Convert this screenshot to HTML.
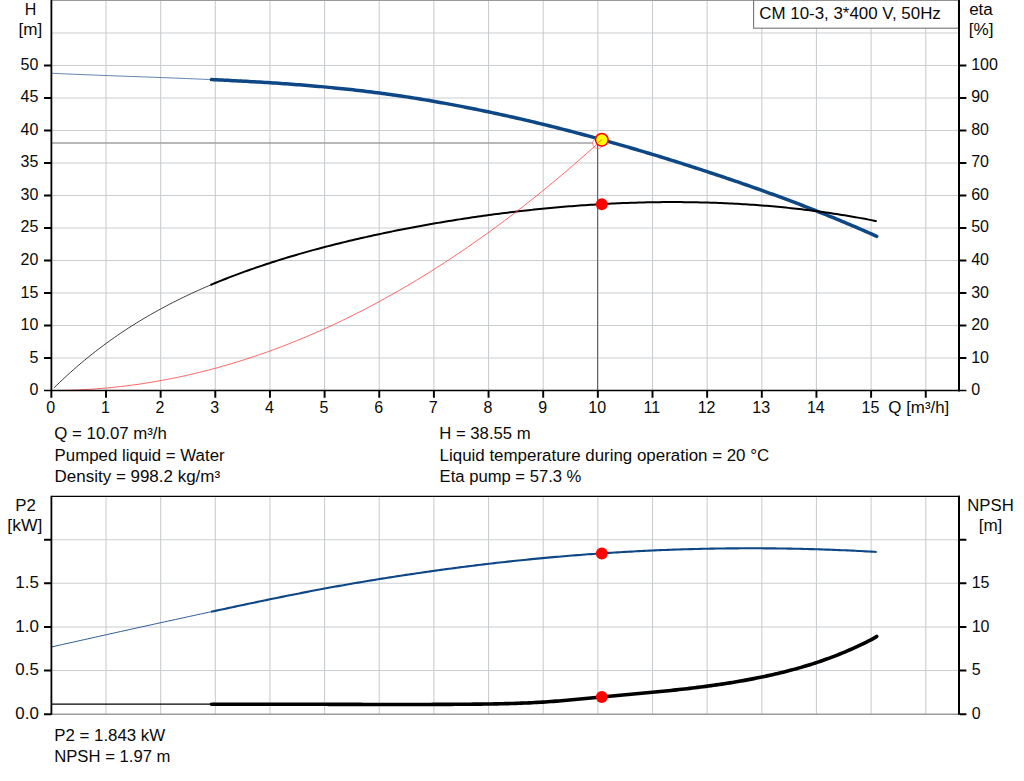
<!DOCTYPE html>
<html><head><meta charset="utf-8"><title>CM 10-3</title>
<style>html,body{margin:0;padding:0;background:#fff}svg{display:block}text{font-family:"Liberation Sans",sans-serif;font-size:16px;fill:#0a0a0a}</style></head>
<body>
<svg width="1024" height="781" viewBox="0 0 1024 781">
<rect width="1024" height="781" fill="#fff"/>
<path d="M106.00,0V390.5 M160.65,0V390.5 M215.30,0V390.5 M269.95,0V390.5 M324.60,0V390.5 M379.25,0V390.5 M433.90,0V390.5 M488.55,0V390.5 M543.20,0V390.5 M597.85,0V390.5 M652.50,0V390.5 M707.15,0V390.5 M761.80,0V390.5 M816.45,0V390.5 M871.10,0V390.5 M925.75,0V390.5 M51.35,358.00H960.0 M51.35,325.50H960.0 M51.35,293.00H960.0 M51.35,260.50H960.0 M51.35,228.00H960.0 M51.35,195.50H960.0 M51.35,163.00H960.0 M51.35,130.50H960.0 M51.35,98.00H960.0 M51.35,65.50H960.0 M51.35,33.00H960.0" stroke="#cbced0" stroke-width="1.1" fill="none"/>
<path d="M51.35,0.3H960.0" stroke="#9a9a9a" stroke-width="1.2" fill="none"/>
<path d="M106.00,496.3V714.2 M160.65,496.3V714.2 M215.30,496.3V714.2 M269.95,496.3V714.2 M324.60,496.3V714.2 M379.25,496.3V714.2 M433.90,496.3V714.2 M488.55,496.3V714.2 M543.20,496.3V714.2 M597.85,496.3V714.2 M652.50,496.3V714.2 M707.15,496.3V714.2 M761.80,496.3V714.2 M816.45,496.3V714.2 M871.10,496.3V714.2 M925.75,496.3V714.2 M51.35,670.57H960.0 M51.35,626.94H960.0 M51.35,583.31H960.0 M51.35,539.68H960.0" stroke="#cbced0" stroke-width="1.1" fill="none"/>
<path d="M51.35,714.2H960.0" stroke="#9c9c9c" stroke-width="1.5" fill="none"/>
<path d="M51.35,143H593" stroke="#a0a0a0" stroke-width="1.6" fill="none"/>
<path d="M597.60,144V390.5" stroke="#5c5f62" stroke-width="1.1" fill="none"/>
<path d="M51.35,73.23 L54.11,73.36 L56.87,73.49 L59.63,73.62 L62.39,73.74 L65.15,73.86 L67.91,73.99 L70.67,74.11 L73.43,74.22 L76.19,74.34 L78.96,74.46 L81.72,74.57 L84.48,74.68 L87.24,74.79 L90.00,74.90 L92.76,75.01 L95.52,75.12 L98.28,75.23 L101.04,75.34 L103.80,75.44 L106.56,75.55 L109.32,75.65 L112.08,75.75 L114.84,75.86 L117.60,75.96 L120.36,76.06 L123.12,76.16 L125.88,76.26 L128.64,76.37 L131.41,76.47 L134.17,76.57 L136.93,76.67 L139.69,76.77 L142.45,76.87 L145.21,76.97 L147.97,77.07 L150.73,77.17 L153.49,77.28 L156.25,77.38 L159.01,77.48 L161.77,77.58 L164.53,77.69 L167.29,77.79 L170.05,77.90 L172.81,78.00 L175.57,78.11 L178.33,78.22 L181.10,78.33 L183.86,78.44 L186.62,78.55 L189.38,78.66 L192.14,78.77 L194.90,78.89 L197.66,79.00 L200.42,79.12 L203.18,79.24 L205.94,79.36 L208.70,79.48 L211.46,79.61" stroke="#2a5a96" stroke-width="0.75" fill="none"/>
<path d="M211.50,79.61 L214.17,79.73 L216.84,79.85 L219.51,79.98 L222.19,80.10 L224.86,80.23 L227.53,80.36 L230.20,80.50 L232.87,80.63 L235.54,80.77 L238.21,80.91 L240.89,81.05 L243.56,81.19 L246.23,81.34 L248.90,81.49 L251.57,81.64 L254.24,81.79 L256.92,81.95 L259.59,82.11 L262.26,82.27 L264.93,82.43 L267.60,82.60 L270.27,82.77 L272.94,82.94 L275.62,83.12 L278.29,83.29 L280.96,83.48 L283.63,83.66 L286.30,83.85 L288.97,84.04 L291.64,84.24 L294.32,84.44 L296.99,84.64 L299.66,84.85 L302.33,85.05 L305.00,85.27 L307.67,85.49 L310.34,85.71 L313.02,85.93 L315.69,86.16 L318.36,86.40 L321.03,86.63 L323.70,86.88 L326.37,87.12 L329.05,87.37 L331.72,87.63 L334.39,87.89 L337.06,88.15 L339.73,88.42 L342.40,88.70 L345.07,88.98 L347.75,89.26 L350.42,89.55 L353.09,89.84 L355.76,90.14 L358.43,90.45 L361.10,90.76 L363.77,91.07 L366.45,91.39 L369.12,91.72 L371.79,92.05 L374.46,92.39 L377.13,92.73 L379.80,93.08 L382.48,93.44 L385.15,93.80 L387.82,94.16 L390.49,94.54 L393.16,94.91 L395.83,95.30 L398.50,95.69 L401.18,96.08 L403.85,96.48 L406.52,96.89 L409.19,97.30 L411.86,97.72 L414.53,98.14 L417.20,98.57 L419.88,99.00 L422.55,99.44 L425.22,99.88 L427.89,100.33 L430.56,100.79 L433.23,101.25 L435.90,101.71 L438.58,102.18 L441.25,102.66 L443.92,103.14 L446.59,103.62 L449.26,104.11 L451.93,104.61 L454.61,105.11 L457.28,105.62 L459.95,106.13 L462.62,106.64 L465.29,107.16 L467.96,107.69 L470.63,108.22 L473.31,108.75 L475.98,109.29 L478.65,109.84 L481.32,110.39 L483.99,110.94 L486.66,111.50 L489.33,112.06 L492.01,112.63 L494.68,113.20 L497.35,113.77 L500.02,114.36 L502.69,114.94 L505.36,115.53 L508.03,116.12 L510.71,116.72 L513.38,117.33 L516.05,117.93 L518.72,118.55 L521.39,119.16 L524.06,119.78 L526.74,120.41 L529.41,121.04 L532.08,121.67 L534.75,122.31 L537.42,122.95 L540.09,123.59 L542.76,124.24 L545.44,124.90 L548.11,125.56 L550.78,126.22 L553.45,126.89 L556.12,127.56 L558.79,128.23 L561.46,128.91 L564.14,129.60 L566.81,130.28 L569.48,130.98 L572.15,131.67 L574.82,132.37 L577.49,133.07 L580.17,133.78 L582.84,134.49 L585.51,135.21 L588.18,135.93 L590.85,136.65 L593.52,137.38 L596.19,138.11 L598.87,138.84 L601.54,139.58 L604.21,140.33 L606.88,141.07 L609.55,141.82 L612.22,142.58 L614.89,143.33 L617.57,144.10 L620.24,144.86 L622.91,145.63 L625.58,146.40 L628.25,147.18 L630.92,147.96 L633.59,148.74 L636.27,149.53 L638.94,150.32 L641.61,151.11 L644.28,151.91 L646.95,152.71 L649.62,153.52 L652.30,154.33 L654.97,155.14 L657.64,155.95 L660.31,156.77 L662.98,157.60 L665.65,158.42 L668.32,159.25 L671.00,160.08 L673.67,160.92 L676.34,161.76 L679.01,162.60 L681.68,163.45 L684.35,164.30 L687.02,165.15 L689.70,166.00 L692.37,166.86 L695.04,167.73 L697.71,168.59 L700.38,169.46 L703.05,170.33 L705.72,171.21 L708.40,172.08 L711.07,172.97 L713.74,173.85 L716.41,174.74 L719.08,175.63 L721.75,176.52 L724.43,177.42 L727.10,178.32 L729.77,179.23 L732.44,180.14 L735.11,181.05 L737.78,181.97 L740.45,182.89 L743.13,183.81 L745.80,184.74 L748.47,185.67 L751.14,186.61 L753.81,187.55 L756.48,188.49 L759.15,189.44 L761.83,190.40 L764.50,191.35 L767.17,192.32 L769.84,193.28 L772.51,194.25 L775.18,195.23 L777.86,196.21 L780.53,197.19 L783.20,198.18 L785.87,199.18 L788.54,200.18 L791.21,201.18 L793.88,202.19 L796.56,203.21 L799.23,204.23 L801.90,205.25 L804.57,206.28 L807.24,207.32 L809.91,208.36 L812.58,209.40 L815.26,210.46 L817.93,211.51 L820.60,212.58 L823.27,213.65 L825.94,214.72 L828.61,215.80 L831.28,216.89 L833.96,217.98 L836.63,219.08 L839.30,220.18 L841.97,221.29 L844.64,222.41 L847.31,223.53 L849.99,224.66 L852.66,225.80 L855.33,226.94 L858.00,228.09 L860.67,229.24 L863.34,230.40 L866.01,231.57 L868.69,232.75 L871.36,233.93 L874.03,235.12 L876.70,236.31" stroke="#0d4785" stroke-width="3.5" fill="none" stroke-linecap="round" stroke-linejoin="round"/>
<path d="M54.10,387.79 L56.85,385.10 L59.60,382.44 L62.35,379.83 L65.10,377.26 L67.86,374.73 L70.61,372.25 L73.36,369.80 L76.11,367.39 L78.86,365.01 L81.61,362.68 L84.36,360.38 L87.11,358.12 L89.87,355.89 L92.62,353.70 L95.37,351.54 L98.12,349.42 L100.87,347.33 L103.62,345.27 L106.37,343.24 L109.12,341.25 L111.87,339.28 L114.63,337.35 L117.38,335.44 L120.13,333.56 L122.88,331.72 L125.63,329.90 L128.38,328.10 L131.13,326.34 L133.88,324.60 L136.64,322.88 L139.39,321.20 L142.14,319.53 L144.89,317.89 L147.64,316.28 L150.39,314.69 L153.14,313.12 L155.89,311.58 L158.64,310.05 L161.40,308.55 L164.15,307.07 L166.90,305.62 L169.65,304.18 L172.40,302.76 L175.15,301.36 L177.90,299.99 L180.65,298.63 L183.41,297.29 L186.16,295.97 L188.91,294.66 L191.66,293.38 L194.41,292.11 L197.16,290.86 L199.91,289.62 L202.66,288.41 L205.41,287.20 L208.17,286.02 L210.92,284.85" stroke="#1a1a1a" stroke-width="0.85" fill="none"/>
<path d="M210.50,285.02 L213.18,283.90 L215.85,282.79 L218.53,281.69 L221.20,280.61 L223.88,279.54 L226.55,278.48 L229.23,277.43 L231.90,276.40 L234.58,275.38 L237.26,274.38 L239.93,273.38 L242.61,272.40 L245.28,271.43 L247.96,270.47 L250.63,269.52 L253.31,268.58 L255.98,267.65 L258.66,266.74 L261.33,265.83 L264.01,264.94 L266.69,264.05 L269.36,263.18 L272.04,262.31 L274.71,261.46 L277.39,260.61 L280.06,259.77 L282.74,258.94 L285.41,258.12 L288.09,257.31 L290.77,256.51 L293.44,255.72 L296.12,254.93 L298.79,254.16 L301.47,253.39 L304.14,252.63 L306.82,251.88 L309.49,251.13 L312.17,250.39 L314.84,249.66 L317.52,248.94 L320.20,248.23 L322.87,247.52 L325.55,246.82 L328.22,246.13 L330.90,245.44 L333.57,244.76 L336.25,244.09 L338.92,243.42 L341.60,242.76 L344.28,242.11 L346.95,241.46 L349.63,240.82 L352.30,240.19 L354.98,239.56 L357.65,238.94 L360.33,238.32 L363.00,237.71 L365.68,237.11 L368.35,236.51 L371.03,235.92 L373.71,235.33 L376.38,234.75 L379.06,234.18 L381.73,233.61 L384.41,233.05 L387.08,232.49 L389.76,231.94 L392.43,231.39 L395.11,230.85 L397.79,230.31 L400.46,229.78 L403.14,229.25 L405.81,228.73 L408.49,228.22 L411.16,227.71 L413.84,227.20 L416.51,226.70 L419.19,226.21 L421.86,225.72 L424.54,225.23 L427.22,224.75 L429.89,224.28 L432.57,223.81 L435.24,223.34 L437.92,222.88 L440.59,222.43 L443.27,221.98 L445.94,221.54 L448.62,221.10 L451.30,220.66 L453.97,220.23 L456.65,219.80 L459.32,219.38 L462.00,218.97 L464.67,218.56 L467.35,218.15 L470.02,217.75 L472.70,217.36 L475.37,216.96 L478.05,216.58 L480.73,216.20 L483.40,215.82 L486.08,215.45 L488.75,215.08 L491.43,214.72 L494.10,214.36 L496.78,214.01 L499.45,213.66 L502.13,213.32 L504.81,212.98 L507.48,212.65 L510.16,212.32 L512.83,212.00 L515.51,211.68 L518.18,211.36 L520.86,211.06 L523.53,210.75 L526.21,210.45 L528.88,210.16 L531.56,209.87 L534.24,209.59 L536.91,209.31 L539.59,209.04 L542.26,208.77 L544.94,208.50 L547.61,208.24 L550.29,207.99 L552.96,207.74 L555.64,207.50 L558.32,207.26 L560.99,207.03 L563.67,206.80 L566.34,206.58 L569.02,206.36 L571.69,206.15 L574.37,205.94 L577.04,205.74 L579.72,205.54 L582.39,205.35 L585.07,205.16 L587.75,204.98 L590.42,204.81 L593.10,204.63 L595.77,204.47 L598.45,204.31 L601.12,204.16 L603.80,204.01 L606.47,203.86 L609.15,203.72 L611.83,203.59 L614.50,203.46 L617.18,203.34 L619.85,203.23 L622.53,203.11 L625.20,203.01 L627.88,202.91 L630.55,202.81 L633.23,202.73 L635.90,202.64 L638.58,202.56 L641.26,202.49 L643.93,202.43 L646.61,202.37 L649.28,202.31 L651.96,202.26 L654.63,202.22 L657.31,202.18 L659.98,202.15 L662.66,202.12 L665.34,202.10 L668.01,202.09 L670.69,202.08 L673.36,202.08 L676.04,202.08 L678.71,202.09 L681.39,202.11 L684.06,202.13 L686.74,202.15 L689.41,202.19 L692.09,202.23 L694.77,202.27 L697.44,202.32 L700.12,202.38 L702.79,202.44 L705.47,202.51 L708.14,202.59 L710.82,202.67 L713.49,202.76 L716.17,202.85 L718.85,202.95 L721.52,203.06 L724.20,203.18 L726.87,203.29 L729.55,203.42 L732.22,203.55 L734.90,203.69 L737.57,203.84 L740.25,203.99 L742.92,204.15 L745.60,204.31 L748.28,204.49 L750.95,204.66 L753.63,204.85 L756.30,205.04 L758.98,205.24 L761.65,205.44 L764.33,205.65 L767.00,205.87 L769.68,206.10 L772.36,206.33 L775.03,206.57 L777.71,206.81 L780.38,207.07 L783.06,207.33 L785.73,207.59 L788.41,207.87 L791.08,208.15 L793.76,208.44 L796.43,208.73 L799.11,209.04 L801.79,209.35 L804.46,209.66 L807.14,209.99 L809.81,210.32 L812.49,210.66 L815.16,211.01 L817.84,211.36 L820.51,211.72 L823.19,212.09 L825.87,212.47 L828.54,212.86 L831.22,213.25 L833.89,213.65 L836.57,214.06 L839.24,214.48 L841.92,214.90 L844.59,215.33 L847.27,215.78 L849.94,216.23 L852.62,216.68 L855.30,217.15 L857.97,217.62 L860.65,218.11 L863.32,218.60 L866.00,219.10 L868.67,219.61 L871.35,220.13 L874.02,220.65 L876.70,221.19" stroke="#000" stroke-width="2.0" fill="none" stroke-linejoin="round"/>
<path d="M51.35,390.50 L55.97,390.48 L60.60,390.43 L65.22,390.34 L69.85,390.22 L74.47,390.06 L79.10,389.86 L83.72,389.63 L88.35,389.37 L92.97,389.07 L97.60,388.73 L102.22,388.36 L106.85,387.95 L111.47,387.51 L116.09,387.03 L120.72,386.52 L125.34,385.97 L129.97,385.39 L134.59,384.77 L139.22,384.11 L143.84,383.43 L148.47,382.70 L153.09,381.94 L157.72,381.14 L162.34,380.31 L166.96,379.45 L171.59,378.54 L176.21,377.61 L180.84,376.63 L185.46,375.62 L190.09,374.58 L194.71,373.50 L199.34,372.39 L203.96,371.24 L208.59,370.05 L213.21,368.83 L217.84,367.58 L222.46,366.29 L227.08,364.96 L231.71,363.60 L236.33,362.20 L240.96,360.77 L245.58,359.30 L250.21,357.80 L254.83,356.26 L259.46,354.68 L264.08,353.07 L268.71,351.43 L273.33,349.75 L277.95,348.03 L282.58,346.28 L287.20,344.50 L291.83,342.67 L296.45,340.82 L301.08,338.92 L305.70,337.00 L310.33,335.03 L314.95,333.03 L319.58,331.00 L324.20,328.93 L328.83,326.83 L333.45,324.69 L338.07,322.51 L342.70,320.30 L347.32,318.05 L351.95,315.77 L356.57,313.45 L361.20,311.10 L365.82,308.71 L370.45,306.29 L375.07,303.83 L379.70,301.34 L384.32,298.81 L388.94,296.24 L393.57,293.64 L398.19,291.01 L402.82,288.34 L407.44,285.63 L412.07,282.89 L416.69,280.11 L421.32,277.30 L425.94,274.45 L430.57,271.57 L435.19,268.65 L439.82,265.70 L444.44,262.71 L449.06,259.68 L453.69,256.62 L458.31,253.53 L462.94,250.40 L467.56,247.23 L472.19,244.03 L476.81,240.79 L481.44,237.52 L486.06,234.21 L490.69,230.87 L495.31,227.49 L499.93,224.08 L504.56,220.63 L509.18,217.15 L513.81,213.63 L518.43,210.07 L523.06,206.48 L527.68,202.86 L532.31,199.19 L536.93,195.50 L541.56,191.77 L546.18,188.00 L550.81,184.20 L555.43,180.36 L560.05,176.48 L564.68,172.57 L569.30,168.63 L573.93,164.65 L578.55,160.64 L583.18,156.59 L587.80,152.50 L592.43,148.38 L597.05,144.22 L601.68,140.03" stroke="#ff4040" stroke-width="0.8" fill="none"/>
<circle cx="597.85" cy="143.3" r="5.2" fill="none" stroke="#ff6060" stroke-width="0.7"/>
<circle cx="601.8" cy="139.8" r="6.3" fill="#ffff00" stroke="#ff0000" stroke-width="1.5"/>
<path d="M598.5,142.3L601.8,139.8" stroke="#ff4040" stroke-width="0.8" fill="none"/>
<circle cx="601.8" cy="204.2" r="5.95" fill="#ff0000"/>
<path d="M51.35,647.00 L54.11,646.38 L56.87,645.76 L59.63,645.14 L62.39,644.52 L65.15,643.90 L67.91,643.28 L70.67,642.66 L73.43,642.05 L76.19,641.43 L78.95,640.81 L81.71,640.20 L84.47,639.58 L87.23,638.96 L89.99,638.35 L92.75,637.73 L95.51,637.12 L98.27,636.50 L101.03,635.89 L103.79,635.28 L106.55,634.66 L109.31,634.05 L112.07,633.44 L114.83,632.83 L117.59,632.21 L120.35,631.60 L123.11,630.99 L125.87,630.38 L128.63,629.77 L131.39,629.16 L134.15,628.55 L136.91,627.95 L139.67,627.34 L142.43,626.73 L145.19,626.12 L147.95,625.52 L150.71,624.91 L153.47,624.30 L156.23,623.70 L158.99,623.09 L161.75,622.49 L164.51,621.89 L167.27,621.28 L170.03,620.68 L172.79,620.08 L175.55,619.48 L178.31,618.87 L181.07,618.27 L183.83,617.67 L186.59,617.07 L189.35,616.47 L192.11,615.88 L194.87,615.28 L197.63,614.68 L200.39,614.08 L203.15,613.49 L205.91,612.89 L208.67,612.30 L211.43,611.70" stroke="#1f528e" stroke-width="0.95" fill="none"/>
<path d="M211.00,611.79 L213.67,611.22 L216.35,610.64 L219.02,610.07 L221.69,609.49 L224.37,608.92 L227.04,608.35 L229.71,607.78 L232.39,607.21 L235.06,606.64 L237.73,606.07 L240.41,605.50 L243.08,604.93 L245.76,604.37 L248.43,603.80 L251.10,603.24 L253.78,602.68 L256.45,602.12 L259.12,601.56 L261.80,601.00 L264.47,600.45 L267.14,599.89 L269.82,599.34 L272.49,598.79 L275.16,598.24 L277.84,597.70 L280.51,597.15 L283.18,596.61 L285.86,596.07 L288.53,595.54 L291.20,595.00 L293.88,594.47 L296.55,593.94 L299.23,593.41 L301.90,592.89 L304.57,592.37 L307.25,591.85 L309.92,591.33 L312.59,590.82 L315.27,590.31 L317.94,589.81 L320.61,589.30 L323.29,588.80 L325.96,588.31 L328.63,587.82 L331.31,587.33 L333.98,586.84 L336.65,586.36 L339.33,585.88 L342.00,585.41 L344.67,584.94 L347.35,584.47 L350.02,584.00 L352.70,583.54 L355.37,583.08 L358.04,582.63 L360.72,582.17 L363.39,581.72 L366.06,581.28 L368.74,580.83 L371.41,580.39 L374.08,579.95 L376.76,579.52 L379.43,579.08 L382.10,578.65 L384.78,578.23 L387.45,577.80 L390.12,577.38 L392.80,576.96 L395.47,576.54 L398.14,576.13 L400.82,575.72 L403.49,575.31 L406.17,574.90 L408.84,574.50 L411.51,574.10 L414.19,573.70 L416.86,573.31 L419.53,572.92 L422.21,572.53 L424.88,572.14 L427.55,571.76 L430.23,571.38 L432.90,571.00 L435.57,570.63 L438.25,570.25 L440.92,569.89 L443.59,569.52 L446.27,569.16 L448.94,568.80 L451.61,568.44 L454.29,568.09 L456.96,567.74 L459.63,567.39 L462.31,567.04 L464.98,566.70 L467.66,566.36 L470.33,566.03 L473.00,565.69 L475.68,565.36 L478.35,565.04 L481.02,564.71 L483.70,564.39 L486.37,564.07 L489.04,563.76 L491.72,563.45 L494.39,563.14 L497.06,562.83 L499.74,562.53 L502.41,562.23 L505.08,561.94 L507.76,561.64 L510.43,561.35 L513.10,561.07 L515.78,560.79 L518.45,560.50 L521.13,560.23 L523.80,559.95 L526.47,559.68 L529.15,559.42 L531.82,559.15 L534.49,558.89 L537.17,558.63 L539.84,558.38 L542.51,558.12 L545.19,557.88 L547.86,557.63 L550.53,557.39 L553.21,557.15 L555.88,556.91 L558.55,556.68 L561.23,556.45 L563.90,556.22 L566.57,556.00 L569.25,555.78 L571.92,555.56 L574.60,555.35 L577.27,555.13 L579.94,554.93 L582.62,554.72 L585.29,554.52 L587.96,554.32 L590.64,554.13 L593.31,553.94 L595.98,553.75 L598.66,553.56 L601.33,553.38 L604.00,553.20 L606.68,553.02 L609.35,552.85 L612.02,552.68 L614.70,552.51 L617.37,552.35 L620.04,552.19 L622.72,552.03 L625.39,551.88 L628.07,551.73 L630.74,551.58 L633.41,551.44 L636.09,551.30 L638.76,551.16 L641.43,551.03 L644.11,550.89 L646.78,550.77 L649.45,550.64 L652.13,550.52 L654.80,550.40 L657.47,550.29 L660.15,550.17 L662.82,550.06 L665.49,549.96 L668.17,549.86 L670.84,549.76 L673.51,549.66 L676.19,549.57 L678.86,549.48 L681.53,549.39 L684.21,549.31 L686.88,549.23 L689.56,549.15 L692.23,549.08 L694.90,549.01 L697.58,548.94 L700.25,548.88 L702.92,548.82 L705.60,548.76 L708.27,548.71 L710.94,548.66 L713.62,548.61 L716.29,548.57 L718.96,548.53 L721.64,548.49 L724.31,548.45 L726.98,548.42 L729.66,548.39 L732.33,548.37 L735.00,548.35 L737.68,548.33 L740.35,548.32 L743.03,548.30 L745.70,548.30 L748.37,548.29 L751.05,548.29 L753.72,548.29 L756.39,548.30 L759.07,548.30 L761.74,548.32 L764.41,548.33 L767.09,548.35 L769.76,548.37 L772.43,548.39 L775.11,548.42 L777.78,548.45 L780.45,548.49 L783.13,548.53 L785.80,548.57 L788.47,548.61 L791.15,548.66 L793.82,548.71 L796.50,548.76 L799.17,548.82 L801.84,548.88 L804.52,548.95 L807.19,549.01 L809.86,549.09 L812.54,549.16 L815.21,549.24 L817.88,549.32 L820.56,549.40 L823.23,549.49 L825.90,549.58 L828.58,549.67 L831.25,549.77 L833.92,549.87 L836.60,549.98 L839.27,550.08 L841.94,550.19 L844.62,550.31 L847.29,550.42 L849.97,550.55 L852.64,550.67 L855.31,550.80 L857.99,550.93 L860.66,551.06 L863.33,551.20 L866.01,551.34 L868.68,551.48 L871.35,551.63 L874.03,551.78 L876.70,551.94" stroke="#0d4785" stroke-width="2.1" fill="none" stroke-linecap="butt"/>
<path d="M51.35,704.2H211.5" stroke="#000" stroke-width="1.3" fill="none"/>
<path d="M211.50,704.31 L214.17,704.30 L216.84,704.28 L219.51,704.27 L222.19,704.26 L224.86,704.25 L227.53,704.24 L230.20,704.23 L232.87,704.23 L235.54,704.22 L238.21,704.21 L240.89,704.21 L243.56,704.20 L246.23,704.20 L248.90,704.20 L251.57,704.20 L254.24,704.19 L256.92,704.19 L259.59,704.19 L262.26,704.19 L264.93,704.20 L267.60,704.20 L270.27,704.20 L272.94,704.20 L275.62,704.20 L278.29,704.21 L280.96,704.21 L283.63,704.22 L286.30,704.22 L288.97,704.23 L291.64,704.23 L294.32,704.24 L296.99,704.24 L299.66,704.25 L302.33,704.26 L305.00,704.26 L307.67,704.27 L310.34,704.28 L313.02,704.29 L315.69,704.29 L318.36,704.30 L321.03,704.31 L323.70,704.32 L326.37,704.32 L329.05,704.33 L331.72,704.34 L334.39,704.35 L337.06,704.36 L339.73,704.36 L342.40,704.37 L345.07,704.38 L347.75,704.39 L350.42,704.39 L353.09,704.40 L355.76,704.41 L358.43,704.42 L361.10,704.42 L363.77,704.43 L366.45,704.43 L369.12,704.44 L371.79,704.45 L374.46,704.45 L377.13,704.45 L379.80,704.46 L382.48,704.46 L385.15,704.47 L387.82,704.47 L390.49,704.47 L393.16,704.47 L395.83,704.47 L398.50,704.48 L401.18,704.48 L403.85,704.47 L406.52,704.47 L409.19,704.47 L411.86,704.47 L414.53,704.47 L417.20,704.46 L419.88,704.46 L422.55,704.45 L425.22,704.45 L427.89,704.44 L430.56,704.43 L433.23,704.42 L435.90,704.41 L438.58,704.40 L441.25,704.39 L443.92,704.38 L446.59,704.37 L449.26,704.35 L451.93,704.34 L454.61,704.32 L457.28,704.30 L459.95,704.28 L462.62,704.26 L465.29,704.24 L467.96,704.22 L470.63,704.20 L473.31,704.17 L475.98,704.15 L478.65,704.12 L481.32,704.09 L483.99,704.06 L486.66,704.02 L489.33,703.98 L492.01,703.94 L494.68,703.90 L497.35,703.85 L500.02,703.79 L502.69,703.73 L505.36,703.67 L508.03,703.60 L510.71,703.53 L513.38,703.45 L516.05,703.36 L518.72,703.27 L521.39,703.17 L524.06,703.07 L526.74,702.95 L529.41,702.83 L532.08,702.70 L534.75,702.57 L537.42,702.42 L540.09,702.27 L542.76,702.10 L545.44,701.93 L548.11,701.75 L550.78,701.56 L553.45,701.36 L556.12,701.16 L558.79,700.94 L561.46,700.72 L564.14,700.50 L566.81,700.27 L569.48,700.04 L572.15,699.80 L574.82,699.55 L577.49,699.31 L580.17,699.06 L582.84,698.81 L585.51,698.55 L588.18,698.30 L590.85,698.04 L593.52,697.79 L596.19,697.53 L598.87,697.28 L601.54,697.03 L604.21,696.78 L606.88,696.53 L609.55,696.28 L612.22,696.03 L614.89,695.79 L617.57,695.54 L620.24,695.30 L622.91,695.05 L625.58,694.81 L628.25,694.57 L630.92,694.32 L633.59,694.08 L636.27,693.83 L638.94,693.58 L641.61,693.33 L644.28,693.08 L646.95,692.83 L649.62,692.58 L652.30,692.32 L654.97,692.06 L657.64,691.80 L660.31,691.54 L662.98,691.27 L665.65,691.00 L668.32,690.72 L671.00,690.44 L673.67,690.16 L676.34,689.87 L679.01,689.58 L681.68,689.28 L684.35,688.98 L687.02,688.68 L689.70,688.36 L692.37,688.05 L695.04,687.72 L697.71,687.39 L700.38,687.05 L703.05,686.71 L705.72,686.36 L708.40,686.00 L711.07,685.64 L713.74,685.27 L716.41,684.89 L719.08,684.50 L721.75,684.10 L724.43,683.70 L727.10,683.28 L729.77,682.86 L732.44,682.43 L735.11,681.99 L737.78,681.54 L740.45,681.08 L743.13,680.61 L745.80,680.12 L748.47,679.63 L751.14,679.13 L753.81,678.62 L756.48,678.09 L759.15,677.55 L761.83,677.00 L764.50,676.44 L767.17,675.87 L769.84,675.29 L772.51,674.69 L775.18,674.07 L777.86,673.45 L780.53,672.81 L783.20,672.15 L785.87,671.48 L788.54,670.80 L791.21,670.09 L793.88,669.37 L796.56,668.64 L799.23,667.89 L801.90,667.11 L804.57,666.33 L807.24,665.52 L809.91,664.69 L812.58,663.85 L815.26,662.98 L817.93,662.10 L820.60,661.19 L823.27,660.27 L825.94,659.32 L828.61,658.35 L831.28,657.36 L833.96,656.35 L836.63,655.31 L839.30,654.25 L841.97,653.17 L844.64,652.06 L847.31,650.93 L849.99,649.77 L852.66,648.59 L855.33,647.38 L858.00,646.15 L860.67,644.89 L863.34,643.60 L866.01,642.29 L868.69,640.94 L871.36,639.57 L874.03,638.14 L876.70,636.44" stroke="#000" stroke-width="3.6" fill="none" stroke-linecap="round" stroke-linejoin="round"/>
<circle cx="601.8" cy="553.5" r="5.95" fill="#ff0000"/>
<circle cx="601.8" cy="697" r="5.95" fill="#ff0000"/>
<rect x="753.6" y="0.2" width="204.89999999999998" height="28" fill="#fff" stroke="#757575" stroke-width="1.1"/>
<text x="759.3" y="19" textLength="181.5" lengthAdjust="spacingAndGlyphs">CM 10-3, 3*400 V, 50Hz</text>
<path d="M51.4,0V391.1" stroke="#000" stroke-width="1.8" fill="none"/>
<path d="M959,0V391.4" stroke="#000" stroke-width="2" fill="none"/>
<path d="M44.050000000000004,390.5H966.4" stroke="#000" stroke-width="1.6" fill="none"/>
<path d="M44.050000000000004,358.00H51.35 M960.0,358.00H966.4 M44.050000000000004,325.50H51.35 M960.0,325.50H966.4 M44.050000000000004,293.00H51.35 M960.0,293.00H966.4 M44.050000000000004,260.50H51.35 M960.0,260.50H966.4 M44.050000000000004,228.00H51.35 M960.0,228.00H966.4 M44.050000000000004,195.50H51.35 M960.0,195.50H966.4 M44.050000000000004,163.00H51.35 M960.0,163.00H966.4 M44.050000000000004,130.50H51.35 M960.0,130.50H966.4 M44.050000000000004,98.00H51.35 M960.0,98.00H966.4 M44.050000000000004,65.50H51.35 M960.0,65.50H966.4" stroke="#000" stroke-width="1.95" fill="none"/>
<path d="M51.35,390.5V397.8 M106.00,390.5V397.8 M160.65,390.5V397.8 M215.30,390.5V397.8 M269.95,390.5V397.8 M324.60,390.5V397.8 M379.25,390.5V397.8 M433.90,390.5V397.8 M488.55,390.5V397.8 M543.20,390.5V397.8 M597.85,390.5V397.8 M652.50,390.5V397.8 M707.15,390.5V397.8 M761.80,390.5V397.8 M816.45,390.5V397.8 M871.10,390.5V397.8 M925.75,390.5V397.8" stroke="#000" stroke-width="1.95" fill="none"/>
<path d="M51.4,495.8V714.8000000000001" stroke="#000" stroke-width="1.8" fill="none"/>
<path d="M959,495.8V714.8000000000001" stroke="#000" stroke-width="2" fill="none"/>
<path d="M51.35,496.3H960.0" stroke="#000" stroke-width="1.3" fill="none"/>
<path d="M44.050000000000004,714.20H51.35 M960.0,714.20H966.4 M44.050000000000004,670.57H51.35 M960.0,670.57H966.4 M44.050000000000004,626.94H51.35 M960.0,626.94H966.4 M44.050000000000004,583.31H51.35 M960.0,583.31H966.4 M44.050000000000004,539.68H51.35 M960.0,539.68H966.4" stroke="#000" stroke-width="1.95" fill="none"/>
<text x="38.3" y="395.00" text-anchor="end">0</text>
<text x="971.2" y="395.00">0</text>
<text x="38.3" y="363.10" text-anchor="end">5</text>
<text x="971.2" y="363.10">10</text>
<text x="38.3" y="330.00" text-anchor="end">10</text>
<text x="971.2" y="330.00">20</text>
<text x="38.3" y="297.50" text-anchor="end">15</text>
<text x="971.2" y="297.50">30</text>
<text x="38.3" y="265.00" text-anchor="end">20</text>
<text x="971.2" y="265.00">40</text>
<text x="38.3" y="232.00" text-anchor="end">25</text>
<text x="971.2" y="232.00">50</text>
<text x="38.3" y="200.00" text-anchor="end">30</text>
<text x="971.2" y="200.00">60</text>
<text x="38.3" y="167.00" text-anchor="end">35</text>
<text x="971.2" y="167.00">70</text>
<text x="38.3" y="135.00" text-anchor="end">40</text>
<text x="971.2" y="135.00">80</text>
<text x="38.3" y="102.00" text-anchor="end">45</text>
<text x="971.2" y="102.00">90</text>
<text x="38.3" y="70.00" text-anchor="end">50</text>
<text x="971.2" y="70.00">100</text>
<text x="50.75" y="412.8" text-anchor="middle">0</text>
<text x="105.40" y="412.8" text-anchor="middle">1</text>
<text x="160.05" y="412.8" text-anchor="middle">2</text>
<text x="214.70" y="412.8" text-anchor="middle">3</text>
<text x="269.35" y="412.8" text-anchor="middle">4</text>
<text x="324.00" y="412.8" text-anchor="middle">5</text>
<text x="378.65" y="412.8" text-anchor="middle">6</text>
<text x="433.30" y="412.8" text-anchor="middle">7</text>
<text x="487.95" y="412.8" text-anchor="middle">8</text>
<text x="542.60" y="412.8" text-anchor="middle">9</text>
<text x="597.25" y="412.8" text-anchor="middle">10</text>
<text x="651.90" y="412.8" text-anchor="middle">11</text>
<text x="706.55" y="412.8" text-anchor="middle">12</text>
<text x="761.20" y="412.8" text-anchor="middle">13</text>
<text x="815.85" y="412.8" text-anchor="middle">14</text>
<text x="870.50" y="412.8" text-anchor="middle">15</text>
<text x="888.3" y="412.8" textLength="61" lengthAdjust="spacingAndGlyphs">Q [m³/h]</text>
<text x="30.6" y="14.5" text-anchor="middle">H</text>
<text x="30.4" y="34.6" text-anchor="middle" textLength="23.7" lengthAdjust="spacingAndGlyphs">[m]</text>
<text x="981" y="14.5" text-anchor="middle" textLength="23.7" lengthAdjust="spacingAndGlyphs">eta</text>
<text x="981.2" y="34.6" text-anchor="middle" textLength="24.7" lengthAdjust="spacingAndGlyphs">[%]</text>
<text x="38.8" y="719.00" text-anchor="end" textLength="23.5" lengthAdjust="spacingAndGlyphs">0.0</text>
<text x="38.8" y="675.37" text-anchor="end" textLength="23.5" lengthAdjust="spacingAndGlyphs">0.5</text>
<text x="38.8" y="631.74" text-anchor="end" textLength="23.5" lengthAdjust="spacingAndGlyphs">1.0</text>
<text x="38.8" y="588.11" text-anchor="end" textLength="23.5" lengthAdjust="spacingAndGlyphs">1.5</text>
<text x="971.7" y="719.00">0</text>
<text x="971.7" y="675.37">5</text>
<text x="971.7" y="631.74">10</text>
<text x="971.7" y="588.11">15</text>
<text x="25.5" y="510.8" text-anchor="middle" textLength="20.6" lengthAdjust="spacingAndGlyphs">P2</text>
<text x="24.8" y="531.3" text-anchor="middle" textLength="35" lengthAdjust="spacingAndGlyphs">[kW]</text>
<text x="990.5" y="510.8" text-anchor="middle" textLength="46.5" lengthAdjust="spacingAndGlyphs">NPSH</text>
<text x="990.5" y="531.3" text-anchor="middle" textLength="23.7" lengthAdjust="spacingAndGlyphs">[m]</text>
<text x="54.3" y="438.8" textLength="112.6" lengthAdjust="spacingAndGlyphs">Q = 10.07 m³/h</text>
<text x="54.6" y="460.5" textLength="170" lengthAdjust="spacingAndGlyphs">Pumped liquid = Water</text>
<text x="54.6" y="481.8" textLength="165.5" lengthAdjust="spacingAndGlyphs">Density = 998.2 kg/m³</text>
<text x="439.2" y="438.8" textLength="91.5" lengthAdjust="spacingAndGlyphs">H = 38.55 m</text>
<text x="439.6" y="460.5" textLength="329.6" lengthAdjust="spacingAndGlyphs">Liquid temperature during operation = 20 °C</text>
<text x="439.6" y="481.8" textLength="141.8" lengthAdjust="spacingAndGlyphs">Eta pump = 57.3 %</text>
<text x="54.2" y="740.8" textLength="111" lengthAdjust="spacingAndGlyphs">P2 = 1.843 kW</text>
<text x="54.2" y="762" textLength="116.3" lengthAdjust="spacingAndGlyphs">NPSH = 1.97 m</text>
</svg></body></html>
